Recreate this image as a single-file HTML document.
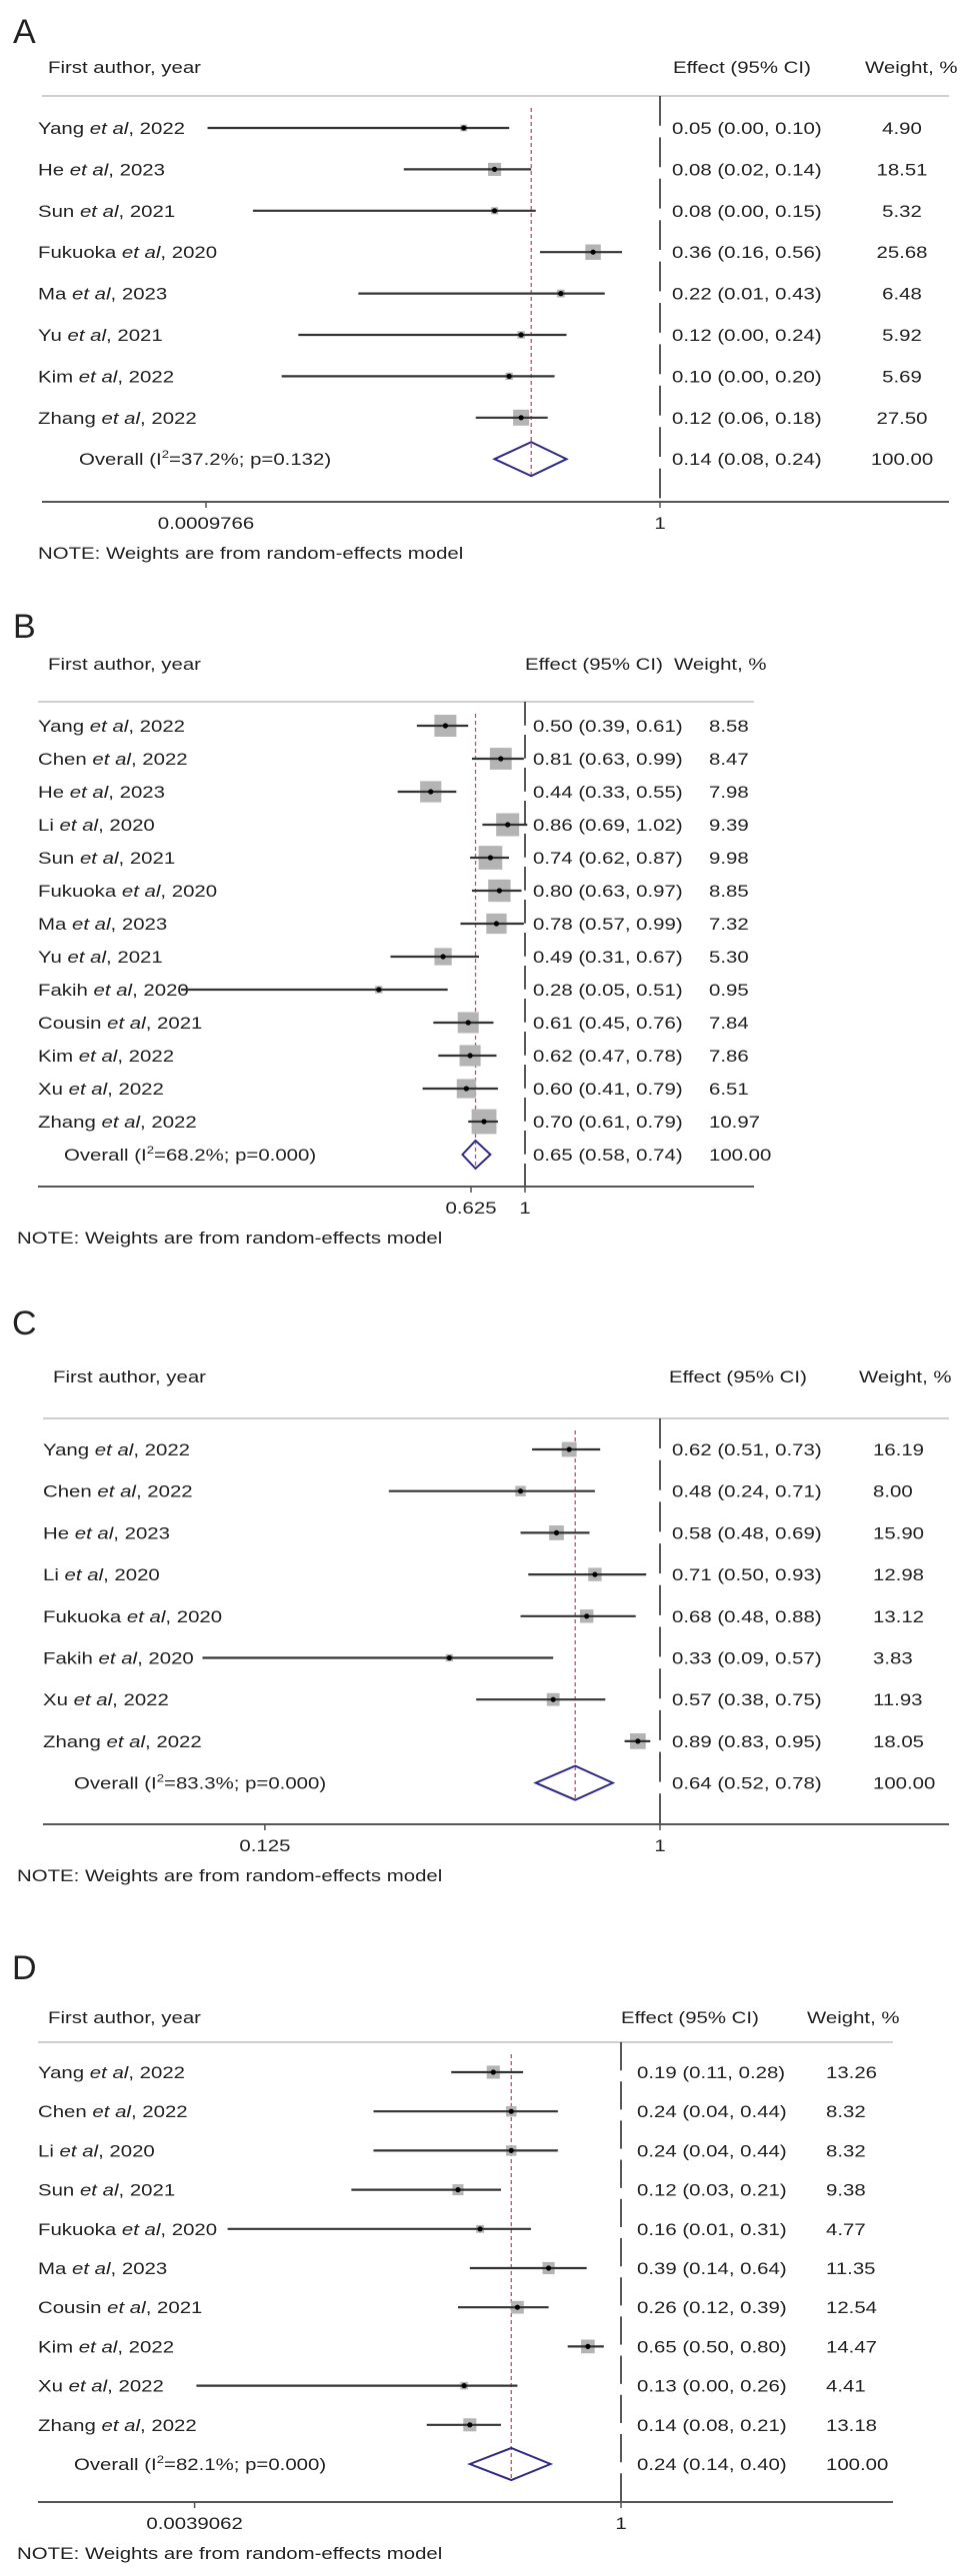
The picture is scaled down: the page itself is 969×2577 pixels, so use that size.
<!DOCTYPE html>
<html><head><meta charset="utf-8"><style>
html,body{margin:0;padding:0;background:#fff}
svg{display:block}
text{font-family:"Liberation Sans",Arial,sans-serif;fill:#222}
</style></head><body>
<svg id="fig" width="969" height="2577" viewBox="0 0 969 2577" xmlns="http://www.w3.org/2000/svg"></svg>
<script>
// ---------- Panel A data ----------
const aAuthors = ["Yang","He","Sun","Fukuoka","Ma","Yu","Kim","Zhang"];
const aYears = ["2022","2023","2021","2020","2023","2021","2022","2022"];
const aEst = [0.05,0.08,0.08,0.36,0.22,0.12,0.10,0.12];
const aLo = [0.001,0.02,0.002,0.16,0.01,0.004,0.0031,0.06];
const aHi = [0.10,0.14,0.15,0.56,0.43,0.24,0.20,0.18];
const aWeight = ["4.90","18.51","5.32","25.68","6.48","5.92","5.69","27.50"];
const aOverall = [0.14,0.08,0.24];
const aHet = ["37.2%","0.132"];
const aTickVals = [0.0009765625,1];
const aTickLabels = ["0.0009766","1"];
// ---------- Panel B data ----------
const bAuthors = ["Yang","Chen","He","Li","Sun","Fukuoka","Ma","Yu","Fakih","Cousin","Kim","Xu","Zhang"];
const bYears = ["2022","2022","2023","2020","2021","2020","2023","2021","2020","2021","2022","2022","2022"];
const bEst = [0.50,0.81,0.44,0.86,0.74,0.80,0.78,0.49,0.28,0.61,0.62,0.60,0.70];
const bLo = [0.39,0.63,0.33,0.69,0.62,0.63,0.57,0.31,0.05,0.45,0.47,0.41,0.61];
const bHi = [0.61,0.99,0.55,1.02,0.87,0.97,0.99,0.67,0.51,0.76,0.78,0.79,0.79];
const bWeight = ["8.58","8.47","7.98","9.39","9.98","8.85","7.32","5.30","0.95","7.84","7.86","6.51","10.97"];
const bOverall = [0.65,0.58,0.74];
const bHet = ["68.2%","0.000"];
const bTickVals = [0.625,1];
const bTickLabels = ["0.625","1"];
// ---------- Panel C data ----------
const cAuthors = ["Yang","Chen","He","Li","Fukuoka","Fakih","Xu","Zhang"];
const cYears = ["2022","2022","2023","2020","2020","2020","2022","2022"];
const cEst = [0.62,0.48,0.58,0.71,0.68,0.33,0.57,0.89];
const cLo = [0.51,0.24,0.48,0.50,0.48,0.09,0.38,0.83];
const cHi = [0.73,0.71,0.69,0.93,0.88,0.57,0.75,0.95];
const cWeight = ["16.19","8.00","15.90","12.98","13.12","3.83","11.93","18.05"];
const cOverall = [0.64,0.52,0.78];
const cHet = ["83.3%","0.000"];
const cTickVals = [0.125,1];
const cTickLabels = ["0.125","1"];
// ---------- Panel D data ----------
const dAuthors = ["Yang","Chen","Li","Sun","Fukuoka","Ma","Cousin","Kim","Xu","Zhang"];
const dYears = ["2022","2022","2020","2021","2020","2023","2021","2022","2022","2022"];
const dEst = [0.19,0.24,0.24,0.12,0.16,0.39,0.26,0.65,0.13,0.14];
const dLo = [0.11,0.04,0.04,0.03,0.006,0.14,0.12,0.50,0.004,0.08];
const dHi = [0.28,0.44,0.44,0.21,0.31,0.64,0.39,0.80,0.26,0.21];
const dWeight = ["13.26","8.32","8.32","9.38","4.77","11.35","12.54","14.47","4.41","13.18"];
const dOverall = [0.24,0.14,0.40];
const dHet = ["82.1%","0.000"];
const dTickVals = [0.00390625,1];
const dTickLabels = ["0.0039062","1"];

const NS = "http://www.w3.org/2000/svg";
const svg = document.getElementById("fig");
function el(tag, attrs, parent){
  const e = document.createElementNS(NS, tag);
  for (const k in attrs) e.setAttribute(k, attrs[k]);
  (parent||svg).appendChild(e);
  return e;
}
function txt(parent, x, y, s, size, anchor){
  const t = el("text", {transform:"translate("+x+","+y+") scale(1.2,1)", "font-size":size||17, "text-anchor":anchor||"start"}, parent);
  if (s !== null) t.textContent = s;
  return t;
}

function panel(cfg, authors, years, est, lo, hi, weight, overall, het, tickVals, tickLabels){
  const g = el("g", {});
  
  
  const xs = v => cfg.x1 + Math.log2(v) * cfg.ppu;
  const rowY = i => cfg.row0 + i * cfg.step;
  const n = authors.length;
  const overallY = rowY(n) + (cfg.overGap||0);

  const L = el("text", {x:cfg.letterX, y:cfg.letterY, "font-size":34}, g);
  L.textContent = cfg.letter;
  
  

  const h1 = txt(g, cfg.labelX + 10, cfg.headerY + 6, "First author, year");
  
  
  const h2 = txt(g, cfg.hdrEff, cfg.headerY + 6, "Effect (95% CI)");
  
  
  const h3 = txt(g, cfg.hdrW, cfg.headerY + 6, "Weight, %");
  
  

  const tl = el("line", {x1:cfg.lx0, x2:cfg.lx1, y1:cfg.lineY, y2:cfg.lineY, stroke:"#cfcfcf", "stroke-width":2}, g);
  
  

  // null line at 1
  const nl = el("line", {x1:xs(1), x2:xs(1), y1:cfg.lineY, y2:cfg.axisY, stroke:"#222", "stroke-width":1.5, "stroke-dasharray":(cfg.step*0.72)+" "+(cfg.step*0.28)}, g);
  
  

  // overall effect line
  const rl = el("line", {x1:xs(overall[0]), x2:xs(overall[0]), y1:cfg.lineY+12, y2:overallY+cfg.dh, stroke:"#c2506e", "stroke-width":1.3, "stroke-dasharray":"4 3"}, g);
  
  

  for (let i=0;i<n;i++){
    const y = rowY(i);
    const lab = txt(g, cfg.labelX, y+6, null);
    
    
    const t1 = el("tspan", {}, lab); t1.textContent = authors[i] + " ";
    const t2 = el("tspan", {"font-style":"italic"}, lab); t2.textContent = "et al";
    const t3 = el("tspan", {}, lab); t3.textContent = ", " + years[i];

    const s = cfg.boxK * Math.sqrt(parseFloat(weight[i]));
    const bx = el("rect", {x:xs(est[i])-s/2, y:y-s/2, width:s, height:s, fill:"#b4b4b4"}, g);
    
    
    const ci = el("line", {x1:xs(lo[i]), x2:xs(hi[i]), y1:y, y2:y, stroke:"#333", "stroke-width":2.2}, g);
    
    
    const pt = el("circle", {cx:xs(est[i]), cy:y, r:2.6, fill:"#000"}, g);
    
    

    const ef = txt(g, cfg.effX, y+6, est[i].toFixed(2)+" ("+lo[i].toFixed(2)+", "+hi[i].toFixed(2)+")");
    
    
    const wt = txt(g, cfg.wX, y+6, weight[i], 17, cfg.wAnchor);
    
    
  }

  // overall
  const ol = txt(g, cfg.overallX, overallY+6, null);
  
  
  const o1 = el("tspan", {}, ol); o1.textContent = "Overall (I";
  const o2 = el("tspan", {"font-size":11, dy:-7}, ol); o2.textContent = "2";
  const o3 = el("tspan", {dy:7}, ol); o3.textContent = "=" + het[0] + "; p=" + het[1] + ")";
  const cx = xs(overall[0]);
  const dm = el("polygon", {points: xs(overall[1])+","+overallY+" "+cx+","+(overallY-cfg.dh)+" "+xs(overall[2])+","+overallY+" "+cx+","+(overallY+cfg.dh), fill:"none", stroke:"#2e2a86", "stroke-width":2}, g);
  
  
  const oe = txt(g, cfg.effX, overallY+6, overall[0].toFixed(2)+" ("+overall[1].toFixed(2)+", "+overall[2].toFixed(2)+")");
  
  
  const ow = txt(g, cfg.wX, overallY+6, "100.00", 17, cfg.wAnchor);
  
  

  // axis
  const ax = el("line", {x1:cfg.lx0, x2:cfg.lx1, y1:cfg.axisY, y2:cfg.axisY, stroke:"#555", "stroke-width":2}, g);
  
  
  for (let k=0;k<tickVals.length;k++){
    const tx = xs(tickVals[k]);
    const tk = el("line", {x1:tx, x2:tx, y1:cfg.axisY, y2:cfg.axisY+6, stroke:"#555", "stroke-width":1.5}, g);
    
    
    const tt = txt(g, tx, cfg.axisY+27, tickLabels[k], 17, "middle");
    
    
  }
  const nt = txt(g, cfg.noteX, cfg.axisY+57, "NOTE: Weights are from random-effects model");
  
  
}

panel({letter:"A", letterX:13, letterY:43, headerY:67, lineY:96, lx0:42, lx1:949, row0:128, step:41.4, axisY:502,
  x1:660, ppu:45.4, effX:672, wX:902, wAnchor:"middle", hdrEff:673, hdrW:865, labelX:38, overallX:79, noteX:38, boxK:3.05, dh:17},
  aAuthors,aYears,aEst,aLo,aHi,aWeight,aOverall,aHet,aTickVals,aTickLabels);
panel({letter:"B", letterX:13, letterY:638, headerY:664, lineY:702, lx0:38, lx1:754, row0:726, step:33, axisY:1187,
  x1:525, ppu:79.6, effX:533, wX:709, wAnchor:"start", hdrEff:525, hdrW:674, labelX:38, overallX:64, noteX:17, boxK:7.5, dh:14},
  bAuthors,bYears,bEst,bLo,bHi,bWeight,bOverall,bHet,bTickVals,bTickLabels);
panel({letter:"C", letterX:12, letterY:1335, headerY:1377, lineY:1419, lx0:43, lx1:949, row0:1450, step:41.7, axisY:1825,
  x1:660, ppu:131.7, effX:672, wX:873, wAnchor:"start", hdrEff:669, hdrW:859, labelX:43, overallX:74, noteX:17, boxK:3.7, dh:17},
  cAuthors,cYears,cEst,cLo,cHi,cWeight,cOverall,cHet,cTickVals,cTickLabels);
panel({letter:"D", letterX:12, letterY:1980, headerY:2018, lineY:2043, lx0:38, lx1:893, row0:2073, step:39.2, axisY:2503,
  x1:621, ppu:53.3, effX:637, wX:826, wAnchor:"start", hdrEff:621, hdrW:807, labelX:38, overallX:74, noteX:17, boxK:3.6, dh:16},
  dAuthors,dYears,dEst,dLo,dHi,dWeight,dOverall,dHet,dTickVals,dTickLabels);
</script>
</body></html>
